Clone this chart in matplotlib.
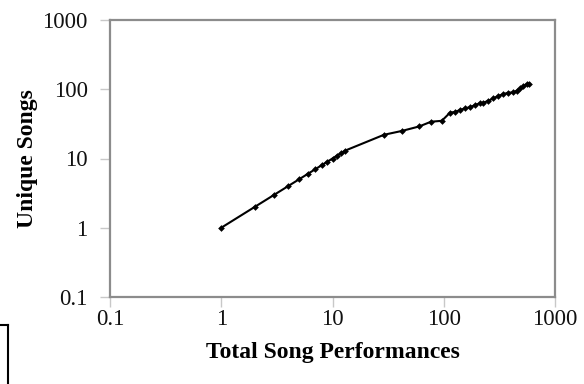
import matplotlib
matplotlib.use("Agg")
import matplotlib.pyplot as plt
from matplotlib.lines import Line2D
from matplotlib.ticker import FixedLocator, FixedFormatter, NullLocator

# cumulative performances vs. distinct songs heard
performances = [1, 2, 3, 4, 5, 6, 7, 8, 9, 10, 11, 12, 13,
                29, 42, 60, 77, 96, 114, 126, 140, 155, 172, 191,
                212, 227, 252, 279, 310, 343, 380, 422, 452, 484,
                519, 556, 587]
unique_songs = [1, 2, 3, 4, 5, 6, 7, 8, 9, 10, 11, 12, 13,
                22, 25, 29, 34, 35, 46, 47, 50, 53, 55, 59,
                63, 64, 68, 74, 80, 85, 89, 90, 95, 103,
                111, 119, 121]

tick_values = [0.1, 1, 10, 100, 1000]
tick_labels = ["0.1", "1", "10", "100", "1000"]

SPINE_GRAY = "#8c8c8c"
TICK_GRAY = "#c8c8c8"

plt.rcParams["font.family"] = ["Liberation Serif", "DejaVu Serif"]

fig = plt.figure(figsize=(5.84, 3.84), dpi=100)
ax = fig.add_axes([110 / 584, 1 - 297 / 384, 445 / 584, 277 / 384])

ax.plot(performances, unique_songs, color="black", linewidth=1.5,
        marker="D", markersize=3.4, markeredgewidth=0)

ax.set_xscale("log")
ax.set_yscale("log")
ax.set_xlim(0.1, 1000)
ax.set_ylim(0.1, 1000)

for axis in (ax.xaxis, ax.yaxis):
    axis.set_major_locator(FixedLocator(tick_values))
    axis.set_major_formatter(FixedFormatter(tick_labels))
    axis.set_minor_locator(NullLocator())

ax.tick_params(axis="both", direction="out", length=7, width=1,
               color=TICK_GRAY, labelsize=16.5, labelcolor="#111111")
ax.tick_params(axis="y", pad=9)
ax.tick_params(axis="x", pad=1.5)

for side in ("left", "bottom", "right", "top"):
    ax.spines[side].set_color(SPINE_GRAY)
    ax.spines[side].set_linewidth(1.6)

ax.set_xlabel("Total Song Performances", fontsize=17, fontweight="bold",
              labelpad=9)
ax.set_ylabel("Unique Songs", fontsize=17, fontweight="bold", labelpad=3)

# partial frame in the lower-left corner
fig.add_artist(Line2D([0, 7.5 / 584], [1 - 325 / 384, 1 - 325 / 384],
                      transform=fig.transFigure, color="black", linewidth=1.5))
fig.add_artist(Line2D([7.5 / 584, 7.5 / 584], [1 - 325 / 384, 0],
                      transform=fig.transFigure, color="black", linewidth=1.5))

fig.savefig("out.png", dpi=100)
